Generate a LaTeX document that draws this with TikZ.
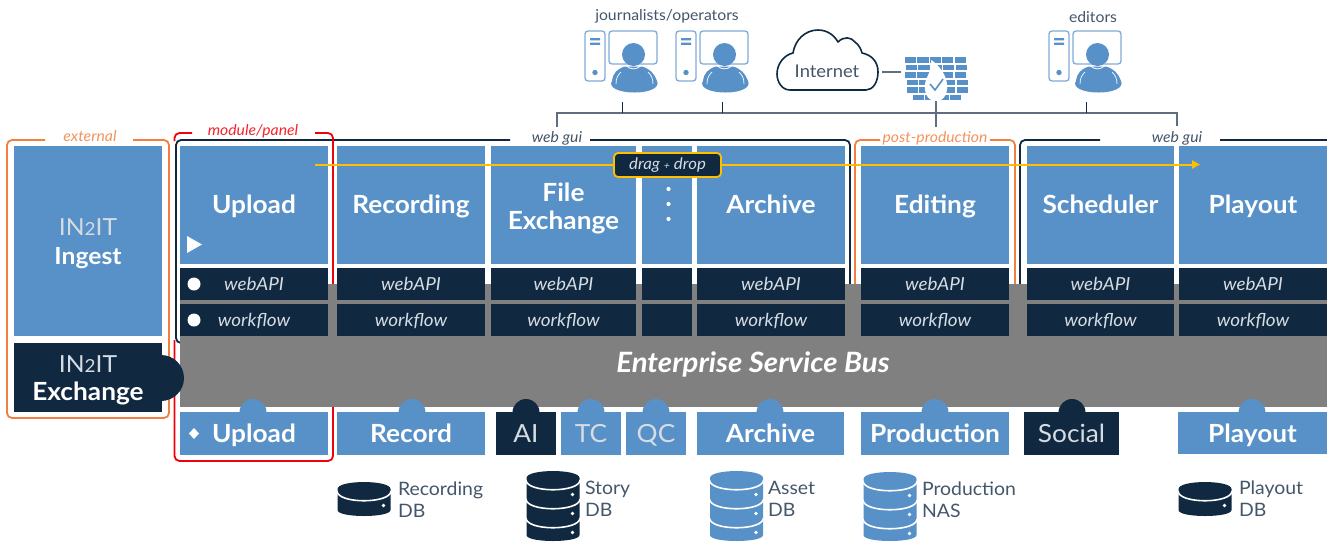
\documentclass[tikz,border=0pt]{standalone}
\usepackage{fontspec}
\setmainfont{Lato}[FakeStretch=1.05]
\usetikzlibrary{arrows.meta}
\definecolor{bl}{HTML}{5891C7}
\definecolor{nv}{HTML}{102840}
\definecolor{gy}{HTML}{808080}
\definecolor{og}{HTML}{F08040}
\definecolor{rd}{HTML}{F00008}
\definecolor{yl}{HTML}{FFBF00}
\definecolor{tx}{HTML}{44566A}
\definecolor{wln}{HTML}{5F6F80}
\definecolor{lbl}{HTML}{7FAAD6}
\definecolor{soft}{HTML}{D5DCE3}
\tikzset{
  pxb/.style={inner sep=0pt,outer sep=0pt,align=center},
  struts/.style={execute at begin node={\rule{0pt}{\dimexpr.7\baselineskip+#1+#1\relax}},execute at end node=\strut},
  modbox/.style={pxb,struts=3pt,fill=bl,text=white,font=\fontsize{25}{29}\selectfont\bfseries},
  rowbox/.style={pxb,struts=2pt,fill=nv,text=soft,font=\fontsize{18}{21}\selectfont\itshape},
  svcbox/.style={pxb,struts=3.5pt,fill=bl,text=white,font=\fontsize{25}{29}\selectfont\bfseries},
  svcdark/.style={pxb,struts=3.5pt,fill=nv,text=soft,font=\fontsize{25}{29}\selectfont},
  svclight/.style={pxb,struts=3.5pt,fill=bl,text=soft,font=\fontsize{25}{29}\selectfont},
  framelabel/.style={pxb,struts=2pt,font=\fontsize{15}{17}\selectfont\itshape},
  toplabel/.style={pxb,struts=2pt,text=tx,font=\fontsize{15}{17}\selectfont},
  dblabel/.style={pxb,anchor=west,align=left,text=tx,font=\fontsize{18.5}{22}\selectfont},
  netline/.style={draw=wln,line width=1.1pt},
  frameline/.style={line width=1.8pt,rounded corners=5pt},
}
\newcommand{\pxbox}[7]{%
  \pgfmathsetmacro{\pw}{#4-#2}\pgfmathsetmacro{\ph}{#5-#3}%
  \pgfmathsetmacro{\pcx}{(#2+#4)/2}\pgfmathsetmacro{\pcy}{(#3+#5)/2}%
  \node[#6,minimum width=\pw pt,minimum height=\ph pt] (#1) at (\pcx,\pcy) {#7};}
\newcommand{\wstation}[3]{%
  \begin{scope}[shift={(#1,31)}]
    \draw[lbl,line width=1.3pt,rounded corners=3pt] (0,0) rectangle (20,50);
    \draw[lbl,line width=1.3pt,rounded corners=3pt] (24,0) rectangle (72,33);
    \fill[bl] (5,7) rectangle (15,9.3) (5,11.5) rectangle (15,13.8);
    \fill[bl] (10,41.5) circle (2.7);
    \fill[bl] (27,50) .. controls (28,42) and (32,38) .. (40,35.5) -- (57,35.5) .. controls (65,38) and (69,42) .. (72,50) .. controls (75,56) and (66,61.5) .. (49.5,61.5) .. controls (33,61.5) and (23,56) .. (27,50) -- cycle;
    \draw[white,line width=.8pt] (41,34.5) .. controls (45,39) and (52,39) .. (56,34.5);
    \draw[white,line width=.7pt] (31,53) .. controls (31,47) and (33,44) .. (36,41);
    \draw[white,line width=.7pt] (68,53) .. controls (68,47) and (66,44) .. (63,41);
    \fill[bl] (48.5,23.5) circle (11.5);
    \coordinate (#2) at (#3,71);
  \end{scope}}
\newcommand{\dbicon}[5]{%
  \begin{scope}[shift={(#1,#2)}]
    \fill[#4] (0,7) .. controls (0,-2.3) and (53,-2.3) .. (53,7) -- (53,#3-6) .. controls (53,#3+2) and (0,#3+2) .. (0,#3-6) -- cycle;
    \foreach \a in {#5} {
      \draw[white,line width=1.6pt] (-.5,\a) .. controls (0,\a+13) and (53,\a+13) .. (53.5,\a);
      \fill[white] (46,\a+14.5) circle (1.9);
    }
  \end{scope}}
\newcommand{\bump}[2]{\fill[#2] (#1-13.5,413) -- (#1-13.5,412.5) arc[start angle=180,end angle=360,radius=13.5] -- (#1+13.5,413) -- cycle;}
\begin{document}
\begin{tikzpicture}[x=1pt,y=-1pt]
\useasboundingbox (0,0) rectangle (1327,542);
% network
\coordinate (busL) at (557,113);
\coordinate (busR) at (1177,113);
\coordinate (guiA) at (557,127);
\coordinate (guiB) at (1177,126);
\coordinate (fwtop) at (936,100);
\coordinate (fwdown) at (936,127);
\coordinate (fwW) at (901,72);
\coordinate (cloudE) at (882,72);
\wstation{585}{wsA}{37}
\wstation{676}{wsB}{46}
\wstation{1049}{wsC}{37}
\node[toplabel] (jo) at (667,15) {journalists/operators};
\node[toplabel] (ed) at (1093,17) {editors};
\draw[netline] (guiA) -- (busL) -- (busR) -- (guiB);
\draw[netline,line width=.9pt,draw=nv] (wsA) -- (wsA |- busL);
\draw[netline,line width=.9pt,draw=nv] (wsB) -- (wsB |- busL);
\draw[netline,line width=.9pt,draw=nv] (wsC) -- (wsC |- busL);
\draw[netline] (fwtop) -- (fwdown);
\draw[netline] (cloudE) -- (fwW);
% cloud
\draw[nv,line width=1.6pt,fill=white,line join=round] (790,90) .. controls (782,90) and (777,82) .. (777,74) .. controls (777,64) and (784,55) .. (793,53) .. controls (795,40) and (805,30) .. (818,30) .. controls (827,30) and (834,35) .. (838,42) .. controls (844,36) and (851,37) .. (855,42) .. controls (859,45) and (861,49) .. (862,53) .. controls (872,55) and (878,62) .. (878,72) .. controls (878,82) and (873,90) .. (866,90) -- cycle;
\node[pxb,text=tx,font=\fontsize{17.5}{21}\selectfont] (internet) at (827,71.5) {Internet};
% firewall
\foreach \yy/\xs/\nn in {57/905/5,64.5/906/5,72/905/5,79.5/907/5,87/907/5,94.5/913/4}{
  \foreach \k in {0,...,\numexpr\nn-1\relax}{
    \fill[bl] ({\xs+\k*12.4},\yy) rectangle ({\xs+\k*12.4+11.2},\yy+5.8);
  }
}
\fill[white] (936,101) .. controls (926,101) and (924,90) .. (925,84) .. controls (926,76) and (933,70) .. (931,60) .. controls (938,64) and (946,74) .. (947,84) .. controls (948,92) and (945,101) .. (936,101) -- cycle;
\draw[bl,line width=1.6pt] (930,84) -- (935,90) -- (943,79);
% frames
\draw[og,frameline] (45,140) -- (7,140) -- (7,418) -- (169,418) -- (169,140) -- (133,140);
\draw[og,frameline] (880,140) -- (855,140) -- (855,290);
\draw[og,frameline] (990,140) -- (1015,140) -- (1015,290);
\draw[nv,frameline] (510,140) -- (176,140) -- (176,343) -- (185,343);
\draw[nv,frameline] (590,140) -- (850,140) -- (850,290);
\draw[nv,frameline] (1100,140) -- (1020,140) -- (1020,290);
\draw[nv,line width=1.8pt] (1220,140) -- (1327,140);
\draw[rd,frameline] (192,133) -- (174.5,133) -- (174.5,141);
\draw[rd,frameline] (174.5,340) -- (174.5,461) -- (333,461) -- (333,133) -- (315,133);
\node[framelabel,text=og!85!white] (lbext) at (90,136.5) {external};
\node[framelabel,text=rd!85!white] (lbmod) at (253,130) {module/panel};
\node[framelabel,text=tx] (lbgui1) at (557,137) {web gui};
\node[framelabel,text=og!85!white] (lbpost) at (935,137) {post-production};
\node[framelabel,text=tx] (lbgui2) at (1177,137) {web gui};
% grey bus
\fill[gy] (180,284) rectangle (1327,336);
\pxbox{esb}{180}{336}{1327}{407}{pxb,fill=gy}{}
\node[pxb,struts=4pt,text=white,font=\fontsize{28}{32}\selectfont\bfseries\itshape] (esblabel) at (753,362) {Enterprise Service Bus};
% left column
\pxbox{ingest}{14}{146}{162}{336}{pxb,fill=bl}{}
\node[pxb,struts=0pt,text=soft,font=\fontsize{23.5}{29}\selectfont] (ingestlabel) at (88,246) {IN{\fontsize{18}{29}\selectfont 2}IT\\\textcolor{white}{\bfseries Ingest}};
\fill[nv] (161,378) circle (23);
\pxbox{exch}{14}{343}{162}{412}{pxb,fill=nv}{}
\node[pxb,struts=0pt,text=soft,font=\fontsize{23.5}{28}\selectfont] (exchlabel) at (88,382.5) {IN{\fontsize{18}{28}\selectfont 2}IT\\\textcolor{white}{\fontsize{25}{28}\selectfont\bfseries Exchange}};
% module boxes
\pxbox{mUp}{180}{146}{328}{264}{modbox}{Upload}
\pxbox{mRec}{337}{146}{485}{264}{modbox}{Recording}
\pxbox{mFile}{491}{146}{636}{264}{pxb,fill=bl}{}
\node[pxb,struts=0pt,text=white,font=\fontsize{25}{28}\selectfont\bfseries] (mFileLabel) at (563.5,210) {File\\Exchange};
\pxbox{mDots}{642}{146}{692}{264}{pxb,fill=bl}{}
\pxbox{mArc}{697}{146}{845}{264}{modbox}{Archive}
\pxbox{mEdit}{861}{146}{1009}{264}{modbox}{Editing}
\pxbox{mSch}{1027}{146}{1174}{264}{modbox}{Scheduler}
\pxbox{mPlay}{1179}{146}{1327}{264}{modbox}{Playout}
\foreach \yy in {189,204,219}{\fill[white] (668.5,\yy) circle (2.1);}
\fill[white] (187,236) -- (202,244.5) -- (187,253) -- cycle;
% rows
\foreach \nm/\xa/\xb in {Up/180/328,Rec/337/485,File/491/636,Arc/697/845,Edit/861/1009,Sch/1027/1174,Play/1179/1327}{
  \pxbox{w\nm}{\xa}{268}{\xb}{300}{rowbox}{webAPI}
  \pxbox{f\nm}{\xa}{304}{\xb}{336}{rowbox}{workflow}
}
\pxbox{wDots}{642}{268}{692}{300}{pxb,fill=nv}{}
\pxbox{fDots}{642}{304}{692}{336}{pxb,fill=nv}{}
\fill[white] (194,284) circle (6.5);
\fill[white] (194,320) circle (6.5);
% drag and drop
\coordinate (dragS) at (315,164.5);
\coordinate (dragE) at (1200,164.5);
\draw[yl,line width=2pt,-{Triangle[length=8pt,width=8pt]}] (dragS) -- (dragE);
\node[pxb,draw=yl,line width=1.8pt,fill=nv,rounded corners=4pt,text=soft,minimum width=107pt,minimum height=24pt,font=\fontsize{16}{18}\selectfont\itshape] (drag) at (667.5,165) {drag {\fontsize{10}{12}\selectfont +} drop};
% service boxes
\bump{253}{bl}\bump{412}{bl}\bump{526}{nv}\bump{591}{bl}\bump{656}{bl}\bump{770}{bl}\bump{935}{bl}\bump{1072}{nv}\bump{1252}{bl}
\pxbox{sUp}{180}{412}{328}{455}{svcbox}{Upload}
\pxbox{sRec}{337}{412}{485}{455}{svcbox}{Record}
\pxbox{sAI}{496}{412}{556}{455}{svcdark}{AI}
\pxbox{sTC}{561}{412}{621}{455}{svclight}{TC}
\pxbox{sQC}{626}{412}{686}{455}{svclight}{QC}
\pxbox{sArc}{697}{412}{844}{455}{svcbox}{Archive}
\pxbox{sPro}{861}{412}{1009}{455}{svcbox}{Production}
\pxbox{sSoc}{1024}{412}{1119}{455}{svcdark}{Social}
\pxbox{sPlay}{1178}{412}{1327}{454}{svcbox}{Playout}
\fill[white] (194,428) -- (199,433.5) -- (194,439) -- (189,433.5) -- cycle;
% databases
\dbicon{337.5}{482}{34}{nv}{9}
\dbicon{526.5}{471}{70}{nv}{9,28,47}
\dbicon{710}{471}{70}{bl}{9,28,47}
\dbicon{863.5}{472}{69}{bl}{9,28,47}
\dbicon{1178.5}{482}{34}{nv}{9}
\node[dblabel] (dbA) at (398,500) {Recording\\DB};
\node[dblabel] (dbB) at (585,499) {Story\\DB};
\node[dblabel] (dbC) at (768,499) {Asset\\DB};
\node[dblabel] (dbD) at (922,500) {Production\\NAS};
\node[dblabel] (dbE) at (1239,499) {Playout\\DB};
\end{tikzpicture}
\end{document}
